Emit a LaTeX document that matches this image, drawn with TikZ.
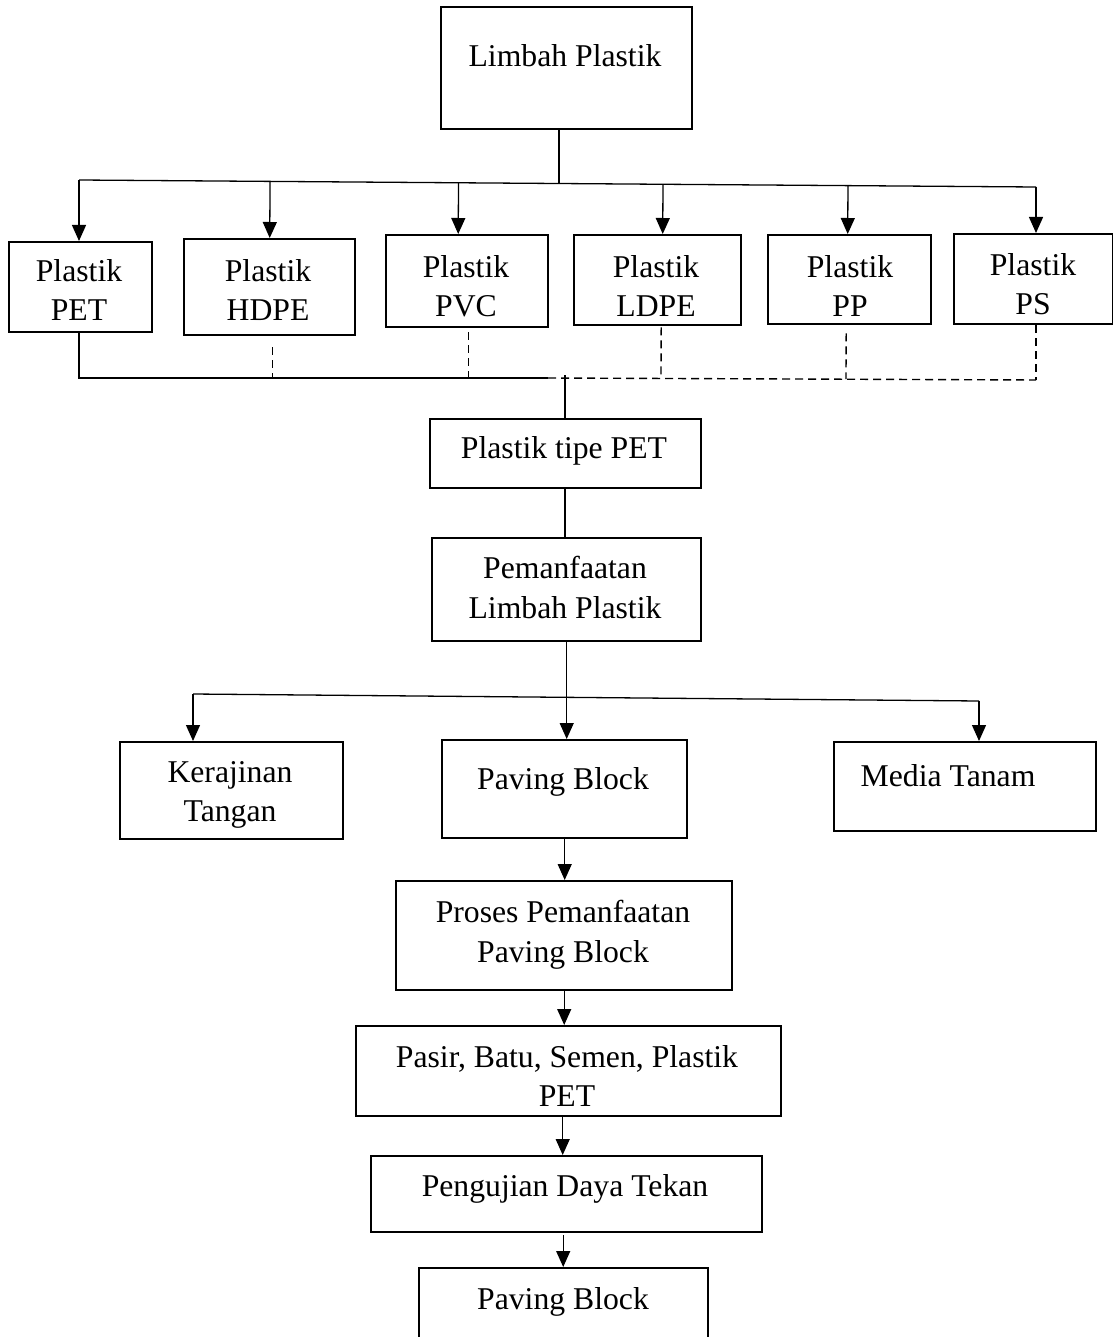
\documentclass[tikz,border=0pt]{standalone}
\usepackage{fontspec}
\setmainfont{Liberation Serif}
\usetikzlibrary{arrows.meta,calc}
\begin{document}
\begin{tikzpicture}[x=1pt,y=-1pt,
 box/.style={draw, line width=2.4pt, inner sep=0pt, anchor=north west},
 txt/.style={anchor=north, inner sep=0pt, align=center, font=\fontsize{31.7}{39.5}\selectfont},
 conn/.style={line width=1.3pt},
 arr/.style={line width=1.3pt, -{Triangle[length=16pt,width=14pt]}},
 dsh/.style={line width=1.4pt, dash pattern=on 8pt off 5pt}]
\useasboundingbox (0,0) rectangle (1112,1337);
% boxes
\node[box, minimum width=251pt, minimum height=122pt] (limbah) at (440,6) {};
\node[box, minimum width=143pt, minimum height=90pt] (pet) at (8,241) {};
\node[box, minimum width=171pt, minimum height=96pt] (hdpe) at (183,238) {};
\node[box, minimum width=162pt, minimum height=92pt] (pvc) at (385,234) {};
\node[box, minimum width=167pt, minimum height=90pt] (ldpe) at (573,234) {};
\node[box, minimum width=163pt, minimum height=89pt] (pp) at (767,234) {};
\node[box, minimum width=159pt, minimum height=90pt] (ps) at (953,233) {};
\node[box, minimum width=271pt, minimum height=69pt] (tipe) at (429,418) {};
\node[box, minimum width=269pt, minimum height=103pt] (pem) at (431,537) {};
\node[box, minimum width=223pt, minimum height=97pt] (kera) at (119,741) {};
\node[box, minimum width=245pt, minimum height=98pt] (pav) at (441,739) {};
\node[box, minimum width=262pt, minimum height=89pt] (media) at (833,741) {};
\node[box, minimum width=336pt, minimum height=109pt] (proses) at (395,880) {};
\node[box, minimum width=425pt, minimum height=90pt] (pasir) at (355,1025) {};
\node[box, minimum width=391pt, minimum height=76pt] (uji) at (370,1155) {};
\node[box, minimum width=289pt, minimum height=85pt] (pav2) at (418,1267) {};
% texts
\node[txt] (tlimbah) at (565,44) {Limbah Plastik};
\node[txt] (tpet) at (79,259) {Plastik\\PET};
\node[txt] (thdpe) at (268,259) {Plastik\\HDPE};
\node[txt] (tpvc) at (466,255) {Plastik\\PVC};
\node[txt] (tldpe) at (656,255) {Plastik\\LDPE};
\node[txt] (tpp) at (850,255) {Plastik\\PP};
\node[txt] (tps) at (1033,253) {Plastik\\PS};
\node[txt] (ttipe) at (564,436) {Plastik tipe PET};
\node[txt] (tpem) at (565,556) {Pemanfaatan\\Limbah Plastik};
\node[txt] (tkera) at (230,761) {Kerajinan\\Tangan};
\node[txt] (tpav) at (563,767) {Paving Block};
\node[txt] (tmedia) at (948,764) {Media Tanam};
\node[txt] (tproses) at (563,900) {Proses Pemanfaatan\\Paving Block};
\node[txt] (tpasir) at (567,1045) {Pasir, Batu, Semen, Plastik\\PET};
\node[txt] (tuji) at (565,1174) {Pengujian Daya Tekan};
\node[txt] (tpav2) at (563,1287) {Paving Block};
% top bus
\coordinate (busL) at (79,180);
\coordinate (busR) at (1036,187);
\coordinate (busT) at (559,183);
\draw[conn] (limbah.south -| busT) -- (busT);
\draw[conn] (busL) -- (busR);
\draw[arr] (busL) -- (pet.north -| busL);
\draw[arr] ($(busL)!(hdpe.north)!(busR)$) -- (hdpe.north);
\draw[arr] ($(busL)!([xshift=-9pt]pvc.north)!(busR)$) -- ([xshift=-9pt]pvc.north);
\draw[arr] ($(busL)!([xshift=5pt]ldpe.north)!(busR)$) -- ([xshift=5pt]ldpe.north);
\draw[arr] ($(busL)!([xshift=-2pt]pp.north)!(busR)$) -- ([xshift=-2pt]pp.north);
\draw[arr] (busR) -- (ps.north -| busR);
% bottom bus
\coordinate (bbL) at (79,378);
\coordinate (bbM) at (548,378);
\coordinate (bbR) at (1036,380);
\coordinate (bbT) at (565,375);
\draw[conn] (pet.south -| bbL) -- (bbL) -- (bbM);
\draw[dsh] (bbM) -- (bbR);
\draw[dsh] ([xshift=2.5pt,yshift=-11pt]hdpe.south) -- ([xshift=2.5pt]hdpe.south |- bbL);
\draw[dsh] ([xshift=1pt,yshift=-4pt]pvc.south) -- ([xshift=1pt]pvc.south |- bbL);
\draw[dsh] ([xshift=3.5pt,yshift=-1pt]ldpe.south) -- ($(bbM)!([xshift=3.5pt]ldpe.south)!(bbR)$);
\draw[dsh] ([xshift=-3.5pt,yshift=-8pt]pp.south) -- ($(bbM)!([xshift=-3.5pt]pp.south)!(bbR)$);
\draw[dsh] (ps.south -| bbR) -- (bbR);
\draw[conn] (bbT) -- (bbT |- tipe.north);
% middle
\draw[conn] (tipe.south -| bbT) -- (bbT |- pem.north);
\coordinate (bus2L) at (193,694);
\coordinate (bus2R) at (979,701);
\draw[conn] (bus2L) -- (bus2R);
\draw[arr] (pem.south) -- (pem.south |- pav.north);
\draw[arr] (bus2L) -- (kera.north -| bus2L);
\draw[arr] (bus2R) -- (media.north -| bus2R);
% bottom chain
\draw[arr] (pav.south) -- (pav.south |- proses.north);
\draw[arr] (proses.south) -- (proses.south |- pasir.north);
\draw[arr] ([xshift=-6pt]pasir.south) -- ([xshift=-6pt]pasir.south |- uji.north);
\draw[arr] ([xshift=-3.5pt,yshift=-2pt]uji.south) -- ([xshift=-3.5pt]uji.south |- pav2.north);
\end{tikzpicture}
\end{document}
